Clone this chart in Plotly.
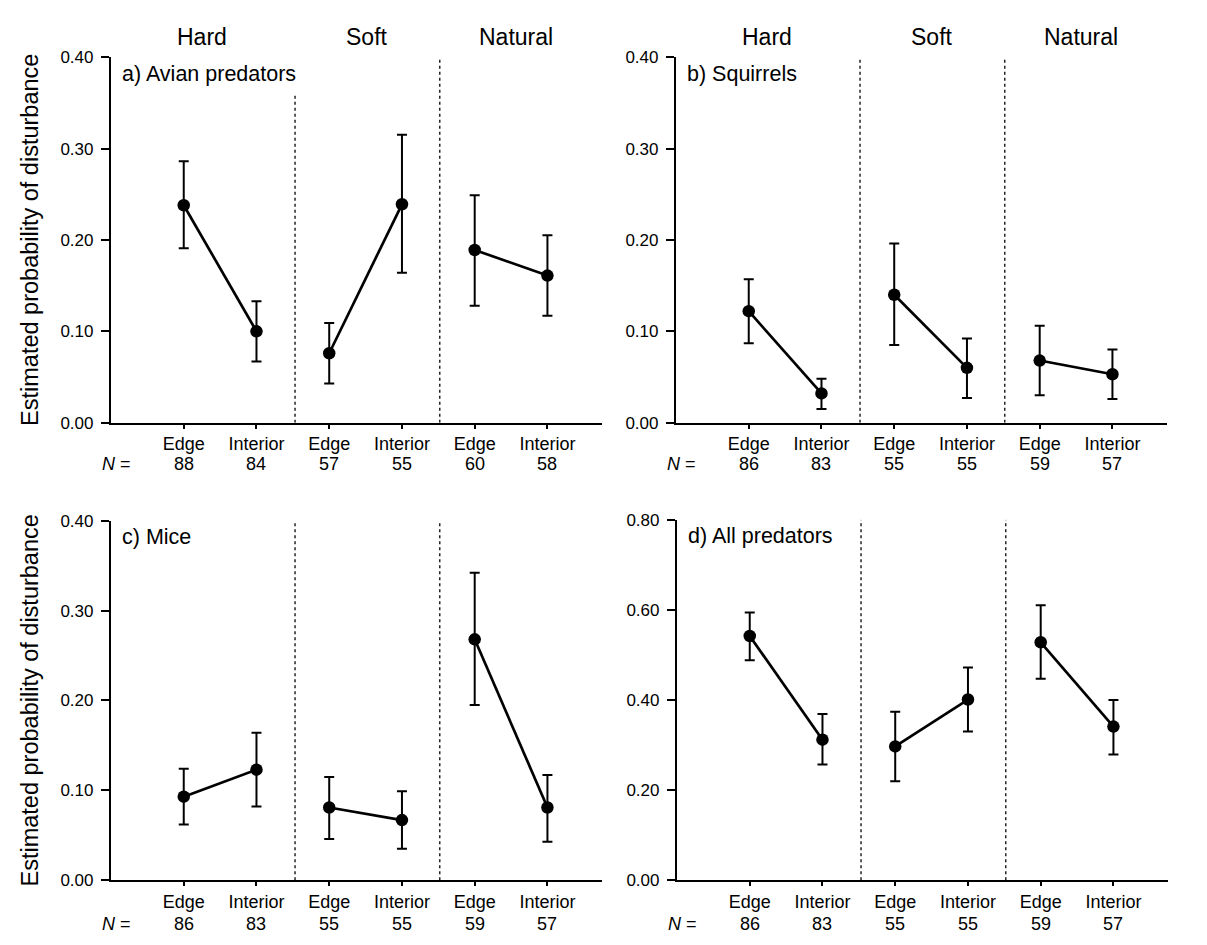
import plotly.graph_objects as go

# ---------------- data ----------------
habitats = ["Hard", "Soft", "Natural"]
header_x = [1.25, 3.52, 5.57]
x_pos = [1, 2, 3, 4, 5, 6]
pos_labels = ["Edge", "Interior", "Edge", "Interior", "Edge", "Interior"]

panel_titles = ["a) Avian predators", "b) Squirrels", "c) Mice", "d) All predators"]

avian_mean = [0.238, 0.100, 0.076, 0.239, 0.189, 0.161]
avian_hi = [0.286, 0.133, 0.109, 0.315, 0.249, 0.205]
avian_lo = [0.191, 0.067, 0.043, 0.164, 0.128, 0.117]
avian_n = [88, 84, 57, 55, 60, 58]

squirrel_mean = [0.122, 0.032, 0.140, 0.060, 0.068, 0.053]
squirrel_hi = [0.157, 0.048, 0.196, 0.092, 0.106, 0.080]
squirrel_lo = [0.087, 0.015, 0.085, 0.027, 0.030, 0.026]
squirrel_n = [86, 83, 55, 55, 59, 57]

mice_mean = [0.093, 0.123, 0.081, 0.067, 0.268, 0.081]
mice_hi = [0.124, 0.164, 0.115, 0.099, 0.342, 0.117]
mice_lo = [0.062, 0.082, 0.046, 0.035, 0.195, 0.043]
mice_n = [86, 83, 55, 55, 59, 57]

all_mean = [0.542, 0.312, 0.297, 0.401, 0.528, 0.341]
all_hi = [0.594, 0.369, 0.374, 0.472, 0.610, 0.400]
all_lo = [0.488, 0.257, 0.220, 0.330, 0.447, 0.279]
all_n = [86, 83, 55, 55, 59, 57]

y_ticks_small = [0.0, 0.1, 0.2, 0.3, 0.4]
y_ticks_large = [0.0, 0.2, 0.4, 0.6, 0.8]

panels = [
    (avian_mean, avian_hi, avian_lo, avian_n, y_ticks_small),
    (squirrel_mean, squirrel_hi, squirrel_lo, squirrel_n, y_ticks_small),
    (mice_mean, mice_hi, mice_lo, mice_n, y_ticks_small),
    (all_mean, all_hi, all_lo, all_n, y_ticks_large),
]

# ---------------- layout geometry (pixels) ----------------
W, H = 1207, 945
FONT = "Liberation Sans, Arial, Helvetica, sans-serif"
# (left, right, top, bottom) in px
boxes = [
    (103, 594, 41, 414),
    (668, 1159, 41, 414),
    (103, 594, 514, 881),
    (669, 1160, 513, 881),
]

fig = go.Figure()
shapes = []
annotations = []

for i, (mean, hi, lo, n, yt) in enumerate(panels):
    ax = "" if i == 0 else str(i + 1)
    xref, yref = "x" + ax, "y" + ax
    for g in range(3):
        idx = [2 * g, 2 * g + 1]
        fig.add_trace(go.Scatter(
            x=[x_pos[k] for k in idx],
            y=[mean[k] for k in idx],
            mode="lines+markers",
            line=dict(color="black", width=2.7),
            marker=dict(color="black", size=12.5),
            error_y=dict(type="data", symmetric=False,
                         array=[hi[k] - mean[k] for k in idx],
                         arrayminus=[mean[k] - lo[k] for k in idx],
                         color="black", thickness=2, width=5),
            xaxis=xref, yaxis=yref, showlegend=False, hoverinfo="skip",
        ))
    l, r, t, b = boxes[i]
    dom_x = [l / W, r / W]
    dom_y = [1 - b / H, 1 - t / H]
    xa = dict(domain=dom_x, range=[0, 6.75], tickvals=x_pos,
              ticktext=pos_labels,
              ticks="outside", ticklen=4, tickwidth=1.5, tickcolor="black",
              showline=True, linewidth=2.2, linecolor="black",
              showgrid=False, zeroline=False, anchor=yref,
              tickfont=dict(family=FONT, size=18, color="black"))
    ya = dict(domain=dom_y, range=[0, yt[-1]], tickvals=yt,
              ticktext=[f"{v:.2f}" for v in yt],
              ticks="outside", ticklen=8, tickwidth=1.5, tickcolor="black",
              ticklabelstandoff=4,
              showline=True, linewidth=2.2, linecolor="black",
              showgrid=False, zeroline=False, anchor=xref,
              tickfont=dict(family=FONT, size=17, color="black"))
    fig.update_layout(**{"xaxis" + ax: xa, "yaxis" + ax: ya})

    # dotted dividers between habitat types
    for d, xd in enumerate([2.53, 4.52]):
        top = yt[-1] * (0.9 if (i == 0 and d == 0) else 1.0)
        shapes.append(dict(type="line", xref=xref, yref=yref,
                           x0=xd, x1=xd, y0=0, y1=top,
                           line=dict(color="black", width=1.3, dash="dot")))

    # panel label
    annotations.append(dict(text=panel_titles[i], xref=xref + " domain", yref=yref + " domain",
                            x=0.018, y=0.955, xanchor="left", yanchor="middle", showarrow=False,
                            font=dict(family=FONT, size=21.5, color="black")))
    # habitat headers on the top row
    if i < 2:
        for hname, hx in zip(habitats, header_x):
            annotations.append(dict(text=hname, xref=xref, yref=yref + " domain",
                                    x=hx, y=1.054, xanchor="center", yanchor="middle",
                                    showarrow=False,
                                    font=dict(family=FONT, size=23, color="black")))
    # sample sizes row
    n_y = 1 - (b + (42 if i < 2 else 45)) / H
    annotations.append(dict(text="<i>N</i> =", xref="paper", yref="paper",
                            x=(l + 22) / W, y=n_y,
                            xanchor="right", yanchor="middle", showarrow=False,
                            font=dict(family=FONT, size=18, color="black")))
    for k in range(6):
        annotations.append(dict(text=str(n[k]), xref=xref, yref="paper",
                                x=x_pos[k], y=n_y, xanchor="center", yanchor="middle",
                                showarrow=False,
                                font=dict(family=FONT, size=18, color="black")))
    # y-axis title on the left column
    if i in (0, 2):
        annotations.append(dict(text="Estimated probability of disturbance",
                                xref="paper", yref="paper",
                                x=22 / W, y=1 - ((t + b) / 2) / H,
                                xanchor="center", yanchor="middle", textangle=-90,
                                showarrow=False,
                                font=dict(family=FONT, size=23.5, color="black")))

fig.update_layout(width=W, height=H, margin=dict(l=0, r=0, t=0, b=0),
                  paper_bgcolor="white", plot_bgcolor="white",
                  shapes=shapes, annotations=annotations,
                  font=dict(family=FONT, color="black"))

fig.write_html("out.html")
